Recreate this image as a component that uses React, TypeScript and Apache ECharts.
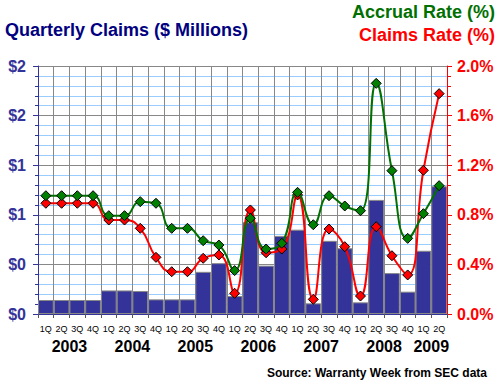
import React, { useEffect, useRef } from "react";
import * as echarts from "echarts";

const quarterLabels = [
  "1Q","2Q","3Q","4Q","1Q","2Q","3Q","4Q","1Q","2Q","3Q","4Q","1Q","2Q","3Q","4Q",
  "1Q","2Q","3Q","4Q","1Q","2Q","3Q","4Q","1Q","2Q",
];
const quarterYears = [
  "2003","2003","2003","2003","2004","2004","2004","2004","2005","2005","2005","2005",
  "2006","2006","2006","2006","2007","2007","2007","2007","2008","2008","2008","2008",
  "2009","2009",
];
const claimsMillions = [
  0.113, 0.113, 0.113, 0.113, 0.19, 0.19, 0.185, 0.118, 0.118, 0.118, 0.34, 0.41, 0.145,
  0.74, 0.39, 0.63, 0.68, 0.086, 0.59, 0.53, 0.094, 0.92, 0.33, 0.18, 0.51, 1.03,
];
const accrualRate = [
  0.954, 0.954, 0.954, 0.954, 0.793, 0.793, 0.906, 0.893, 0.691, 0.691, 0.591, 0.556, 0.35,
  0.772, 0.524, 0.57, 0.981, 0.72, 0.954, 0.871, 0.833, 1.86, 1.156, 0.61, 0.809, 1.035,
];
const claimsRate = [
  0.893, 0.893, 0.893, 0.893, 0.758, 0.758, 0.691, 0.457, 0.341, 0.341, 0.449, 0.476, 0.167,
  0.839, 0.494, 0.524, 0.96, 0.118, 0.685, 0.543, 0.145, 0.704, 0.47, 0.315, 1.159, 1.777,
];

const FONT = "Liberation Sans, Arial, sans-serif";

export default function App() {
  const ref = useRef<HTMLDivElement>(null);
  useEffect(() => {
    if (!ref.current) return;
    const chart = echarts.init(ref.current, null, { renderer: "svg" });

    // year label positions derived from quarter groups
    const yearNames: string[] = [];
    const yearCenters: number[] = [];
    let start = 0;
    for (let i = 1; i <= quarterYears.length; i++) {
      if (i === quarterYears.length || quarterYears[i] !== quarterYears[start]) {
        yearNames.push(quarterYears[start]);
        yearCenters.push((start + i) / 2);
        start = i;
      }
    }
    const n = quarterLabels.length;

    chart.setOption({
      animation: false,
      backgroundColor: "#ffffff",
      grid: {
        left: 38,
        right: 53,
        top: 66,
        bottom: 72,
        containLabel: false,
        outerBoundsMode: "none",
      },
      graphic: [
        {
          type: "text",
          left: 5,
          top: 21,
          style: {
            text: "Quarterly Claims ($ Millions)",
            fill: "#000080",
            font: `bold 18px ${FONT}`,
          },
        },
        {
          type: "text",
          right: 5,
          top: 3,
          style: {
            text: "Accrual Rate (%)",
            fill: "#007000",
            font: `bold 18px ${FONT}`,
          },
        },
        {
          type: "text",
          right: 5,
          top: 26,
          style: {
            text: "Claims Rate (%)",
            fill: "#ff0000",
            font: `bold 18px ${FONT}`,
          },
        },
        {
          type: "text",
          right: 13,
          top: 367,
          style: {
            text: "Source: Warranty Week from SEC data",
            fill: "#000000",
            font: `bold 12px ${FONT}`,
          },
        },
      ],
      xAxis: [
        {
          type: "category",
          data: quarterLabels,
          boundaryGap: true,
          axisLine: { show: true, lineStyle: { color: "#333399", width: 1 } },
          axisTick: { show: true, length: 4, lineStyle: { color: "#555555" } },
          axisLabel: {
            interval: 0,
            color: "#000000",
            fontFamily: FONT,
            fontSize: 9,
            margin: 10,
          },
          splitLine: { show: true, lineStyle: { color: "#888888", width: 1 } },
        },
        {
          type: "value",
          min: 0,
          max: n,
          position: "bottom",
          axisLine: { show: false },
          axisTick: { show: false },
          splitLine: { show: false },
          axisLabel: {
            customValues: yearCenters,
            formatter: (v: number) => {
              const idx = yearCenters.indexOf(v);
              return idx >= 0 ? yearNames[idx] : "";
            },
            color: "#000000",
            fontFamily: FONT,
            fontWeight: "bold",
            fontSize: 16,
            margin: 24,
          },
        },
      ],
      yAxis: [
        {
          type: "value",
          min: 0,
          max: 2,
          interval: 0.4,
          position: "left",
          axisLine: { show: true, lineStyle: { color: "#333399", width: 1 } },
          axisTick: { show: true, length: 5, lineStyle: { color: "#333399" } },
          minorTick: { show: true, splitNumber: 5, length: 3, lineStyle: { color: "#333399" } },
          axisLabel: {
            formatter: (v: number) => "$" + Math.round(v),
            color: "#333399",
            fontFamily: FONT,
            fontWeight: "bold",
            fontSize: 16,
            margin: 12,
          },
          splitLine: { show: true, lineStyle: { color: "#888888", width: 1 } },
          minorSplitLine: { show: true, lineStyle: { color: "#99ccff", width: 1 } },
        },
        {
          type: "value",
          min: 0,
          max: 2,
          interval: 0.4,
          position: "right",
          axisLine: { show: true, lineStyle: { color: "#ff0000", width: 1 } },
          axisTick: { show: true, length: 5, lineStyle: { color: "#ff0000" } },
          minorTick: { show: true, splitNumber: 5, length: 4, lineStyle: { color: "#ff0000" } },
          axisLabel: {
            formatter: (v: number) => v.toFixed(1) + "%",
            color: "#ff0000",
            fontFamily: FONT,
            fontWeight: "bold",
            fontSize: 16,
            margin: 10,
          },
          splitLine: { show: false },
        },
      ],
      series: [
        {
          name: "Quarterly Claims",
          type: "bar",
          xAxisIndex: 0,
          yAxisIndex: 0,
          data: claimsMillions,
          barCategoryGap: "0%",
          itemStyle: { color: "#333399", borderColor: "#888888", borderWidth: 1 },
          z: 2,
        },
        {
          name: "Claims Rate (%)",
          type: "line",
          xAxisIndex: 0,
          yAxisIndex: 1,
          data: claimsRate,
          smooth: 0.5,
          symbol: "diamond",
          symbolSize: 10,
          lineStyle: { color: "#ff0000", width: 2 },
          itemStyle: { color: "#ff0000", borderColor: "#000000", borderWidth: 1 },
          z: 3,
        },
        {
          name: "Accrual Rate (%)",
          type: "line",
          xAxisIndex: 0,
          yAxisIndex: 1,
          data: accrualRate,
          smooth: 0.5,
          symbol: "diamond",
          symbolSize: 10,
          lineStyle: { color: "#007000", width: 2 },
          itemStyle: { color: "#008000", borderColor: "#000000", borderWidth: 1 },
          z: 4,
        },
      ],
    });
    return () => chart.dispose();
  }, []);
  return (
    <div
      ref={ref}
      style={{ position: "fixed", left: 0, top: 0, width: 500, height: 386 }}
    />
  );
}
